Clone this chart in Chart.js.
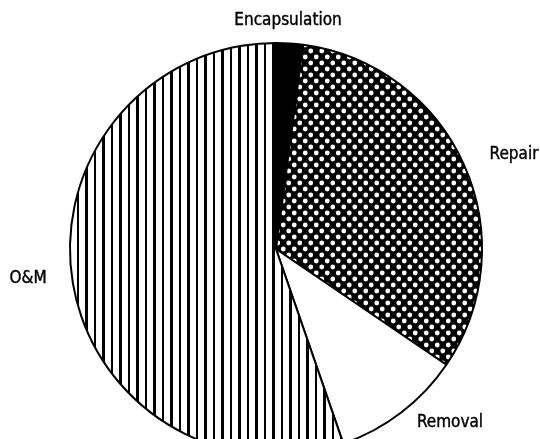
<!DOCTYPE html>
<html>
<head>
<meta charset="utf-8">
<script src="https://cdn.jsdelivr.net/npm/chart.js@4.4.1/dist/chart.umd.min.js"></script>
<style>
  html, body { margin: 0; padding: 0; background: #fff; overflow: hidden; }
  #wrap { width: 540px; height: 500px; }
</style>
</head>
<body>
<div id="wrap"><canvas id="pie" width="540" height="500"></canvas></div>
<script>
// slices go clockwise from the top
const categories = ['Encapsulation', 'Repair', 'Removal', 'O&M'];
const shares = [2.1, 32.4, 10.2, 55.3];

// spot where each label sits on the picture
const labelSpots = {
    'Encapsulation': [288, 21],
    'Repair': [514, 155],
    'O&M': [28, 279],
    'Removal': [450, 423]
};

const makePattern = (kind) => {
    if (kind === 'solid') return '#000';
    if (kind === 'white') return '#fff';
    const c = document.createElement('canvas');
    const g = c.getContext('2d');
    if (kind === 'stripes') {
        // two stripes per tile so the pitch averages 8.5px
        c.width = 17; c.height = 10;
        g.fillStyle = '#fff'; g.fillRect(0, 0, 17, 10);
        g.fillStyle = '#000';
        g.fillRect(0, 0, 3, 10);
        g.fillRect(9, 0, 2, 10);
    } else {
        // white dots on black, staggered rows
        c.width = 11; c.height = 12;
        g.fillStyle = '#000'; g.fillRect(0, 0, 11, 12);
        g.fillStyle = '#fff';
        [[2.75, 3], [8.25, 9]].forEach(([x, y]) => {
            g.beginPath(); g.arc(x, y, 2.4, 0, Math.PI * 2); g.fill();
        });
    }
    return g.createPattern(c, 'repeat');
};

const ctx = document.getElementById('pie').getContext('2d');
const fills = [makePattern('solid'), makePattern('dots'), makePattern('white'), makePattern('stripes')];

const labelPlugin = {
    id: 'sliceLabels',
    afterDraw(chart) {
        const g = chart.ctx;
        g.save();
        g.fillStyle = '#000';
        g.strokeStyle = '#000';
        g.lineWidth = 0.4;
        g.font = '17px "DejaVu Sans Condensed", "DejaVu Sans", sans-serif';
        g.textAlign = 'center';
        g.textBaseline = 'middle';
        chart.data.labels.forEach(name => {
            const p = labelSpots[name];
            if (!p) return;
            g.fillText(name, p[0], p[1]);
            g.strokeText(name, p[0], p[1]);
        });
        g.restore();
    }
};

new Chart(ctx, {
    type: 'pie',
    data: {
        labels: categories,
        datasets: [{
            data: shares,
            backgroundColor: fills,
            borderColor: '#000',
            borderWidth: 2,
            borderAlign: 'center'
        }]
    },
    options: {
        responsive: false,
        animation: false,
        layout: { padding: { left: 69, right: 57, top: 42, bottom: 44 } },
        plugins: {
            legend: { display: false },
            tooltip: { enabled: false }
        }
    },
    plugins: [labelPlugin]
});
</script>
</body>
</html>
